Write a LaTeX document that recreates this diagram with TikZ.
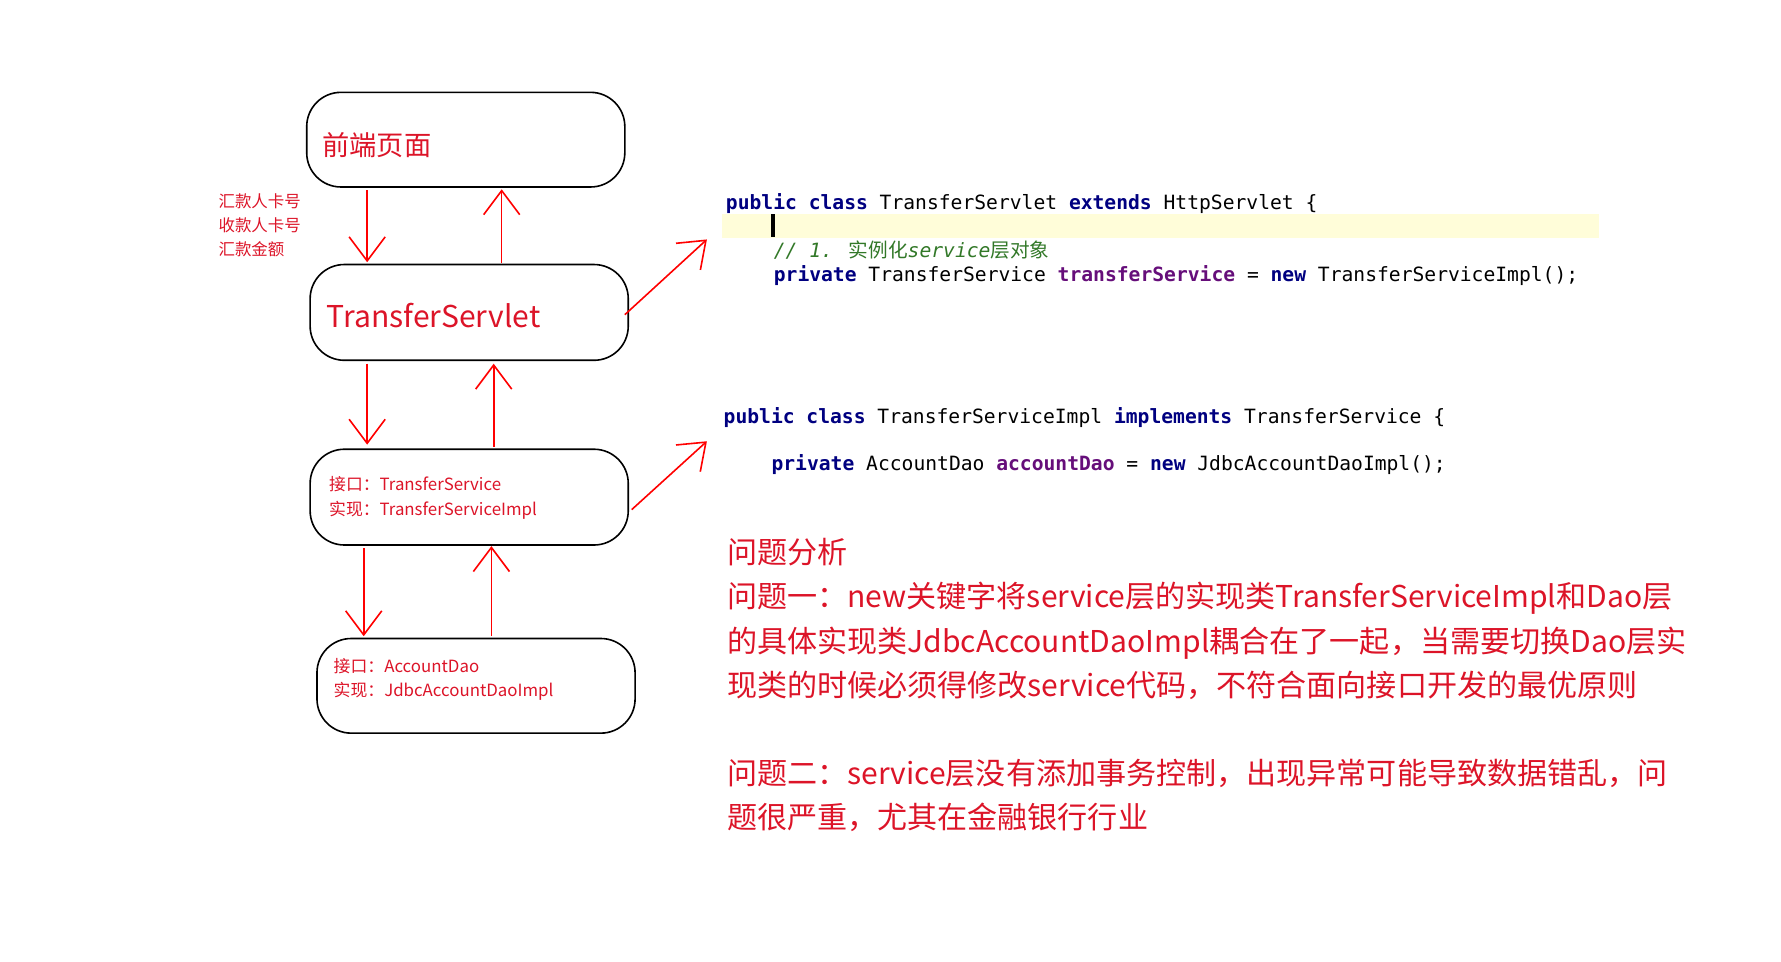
\documentclass[tikz,border=0pt]{standalone}
\usepackage{fontspec}
\setmainfont{Noto Sans CJK SC}
\newfontfamily\codefont{DejaVu Sans Mono}
\newfontfamily\cjkfont{Noto Sans CJK SC}
\definecolor{redtxt}{RGB}{220,20,40}
\definecolor{kw}{RGB}{0,0,128}
\definecolor{fld}{RGB}{102,14,122}
\definecolor{cmt}{RGB}{50,120,40}
\usetikzlibrary{arrows.meta}
\begin{document}
\begin{tikzpicture}[x=0.01cm,y=-0.01cm,
	layer/.style={draw, rounded corners=3mm, thin},
	flow/.style={draw=red, thin, -{Straight Barb[length=6pt,width=9pt]}},
	code/.style={anchor=base west, inner sep=0pt, font=\codefont\fontsize{4.9pt}{6pt}\selectfont},
	note/.style={anchor=base west, inner sep=0pt, text=redtxt, font=\fontsize{7.5pt}{9pt}\selectfont}]
	\useasboundingbox (0,0) rectangle (1562,843);

	% layers
	\draw[layer] (269,81) rectangle (548,164);
	\draw[layer] (272,232) rectangle (551,316);
	\draw[layer] (272,394) rectangle (551,478);
	\draw[layer] (278,560) rectangle (557,643);
	\node[note, font=\fontsize{6.8pt}{8pt}\selectfont] (front) at (282,136) {前端页面};
	\node[note] (servlet) at (286,287) {TransferServlet};
	\node[note, font=\fontsize{4.2pt}{6pt}\selectfont] (svc) at (288,430) {接口：TransferService};
	\node[note, font=\fontsize{4.2pt}{6pt}\selectfont] at (288,452) {实现：TransferServiceImpl};
	\node[note, font=\fontsize{4.2pt}{6pt}\selectfont] (dao) at (292,590) {接口：AccountDao};
	\node[note, font=\fontsize{4.2pt}{6pt}\selectfont] at (292,611) {实现：JdbcAccountDaoImpl};
	\node[note, font=\fontsize{4.1pt}{6pt}\selectfont] at (191,182) {汇款人卡号};
	\node[note, font=\fontsize{4.1pt}{6pt}\selectfont] at (191,203) {收款人卡号};
	\node[note, font=\fontsize{4.1pt}{6pt}\selectfont] at (191,224) {汇款金额};

	% arrows
	\draw[flow] (322,167) -- (322,230);
	\draw[flow] (440,231) -- (440,166);
	\draw[flow] (322,319) -- (322,390);
	\draw[flow] (433,392) -- (433,319);
	\draw[flow] (319,481) -- (319,558);
	\draw[flow] (431,558) -- (431,479);
	\draw[flow] (548,276) -- (620,210);
	\draw[flow] (554,447) -- (620,387);

	% code
	\fill[yellow!15] (633,188) rectangle (1402,209);
	\draw[thick] (678,188) -- (678,208);
	\node[code] at (636,184) {\textcolor{kw}{\textbf{public class}} TransferServlet \textcolor{kw}{\textbf{extends}} HttpServlet \{};
	\node[code, text=cmt] at (678,226) {\textit{// 1.} {\cjkfont 实例化}\textit{service}{\cjkfont 层对象}};
	\node[code] at (678,247) {\textcolor{kw}{\textbf{private}} TransferService \textcolor{fld}{\textbf{transferService}} = \textcolor{kw}{\textbf{new}} TransferServiceImpl();};
	\node[code] at (634,371) {\textcolor{kw}{\textbf{public class}} TransferServiceImpl \textcolor{kw}{\textbf{implements}} TransferService \{};
	\node[code] at (676,413) {\textcolor{kw}{\textbf{private}} AccountDao \textcolor{fld}{\textbf{accountDao}} = \textcolor{kw}{\textbf{new}} JdbcAccountDaoImpl();};

	% problems
	\node[note] at (637,494) {问题分析};
	\node[note] at (637,533) {问题一：new关键字将service层的实现类TransferServiceImpl和Dao层};
	\node[note] at (637,572) {的具体实现类JdbcAccountDaoImpl耦合在了一起，当需要切换Dao层实};
	\node[note] at (637,611) {现类的时候必须得修改service代码，不符合面向接口开发的最优原则};
	\node[note] at (637,688) {问题二：service层没有添加事务控制，出现异常可能导致数据错乱，问};
	\node[note] at (637,727) {题很严重，尤其在金融银行行业};
\end{tikzpicture}
\end{document}
